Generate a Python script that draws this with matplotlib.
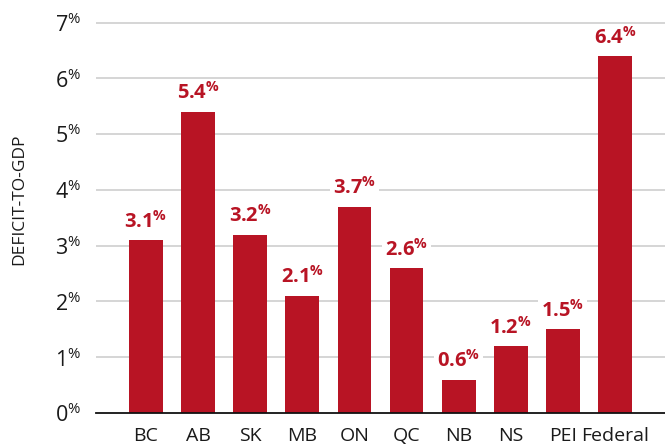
import matplotlib
matplotlib.use("Agg")
import matplotlib.pyplot as plt

regions = ["BC", "AB", "SK", "MB", "ON", "QC", "NB", "NS", "PEI", "Federal"]
deficit = [3.1, 5.4, 3.2, 2.1, 3.7, 2.6, 0.6, 1.2, 1.5, 6.4]
y_ticks = [0, 1, 2, 3, 4, 5, 6, 7]

RED = "#B81424"
INK = "#1a1a1a"
FONT = "Open Sans"

plt.rcParams["font.family"] = [FONT, "DejaVu Sans"]
plt.rcParams["mathtext.fontset"] = "custom"
plt.rcParams["mathtext.rm"] = FONT
plt.rcParams["mathtext.it"] = FONT
plt.rcParams["mathtext.bf"] = FONT + ":bold"

fig = plt.figure(figsize=(6.65, 4.47), dpi=100)
ax = fig.add_axes([96 / 665, 1 - 413 / 447, 1 - 96 / 665, (413 - 11.5) / 447])

x = list(range(len(regions)))
for t in y_ticks[1:]:
    ax.axhline(t, color="#d2d2d2", linewidth=1.3, zorder=1)
ax.bar(x, deficit, width=0.65, color=RED, zorder=2)

for i, v in zip(x, deficit):
    ax.annotate(f"{v:.1f}" + r"$^{\mathbf{\%}}$", (i, v), xytext=(0, 5.5),
                textcoords="offset points", ha="center", va="bottom",
                color=RED, fontsize=14.5, fontweight="bold", zorder=4,
                bbox=dict(facecolor="white", edgecolor="none", pad=2))

ax.set_xlim(-0.96, 9.96)
ax.set_ylim(0, 7.2)
ax.set_yticks(y_ticks)
ax.set_yticklabels([f"{t}" + r"$^{\mathrm{\%}}$" for t in y_ticks],
                   fontsize=15.5, color=INK)
ax.set_xticks(x)
ax.set_xticklabels(regions, fontsize=14, color=INK)
ax.tick_params(axis="y", length=0, pad=11)
ax.tick_params(axis="x", length=0, pad=10)

for side in ["top", "right", "left"]:
    ax.spines[side].set_visible(False)
ax.spines["bottom"].set_color("#111111")
ax.spines["bottom"].set_linewidth(1.3)
ax.spines["bottom"].set_zorder(3)

fig.text(19 / 665, 1 - 199 / 447, "DEFICIT-TO-GDP", rotation=90,
         ha="center", va="center", fontsize=12.5, color=INK)

fig.savefig("out.png", dpi=100)
